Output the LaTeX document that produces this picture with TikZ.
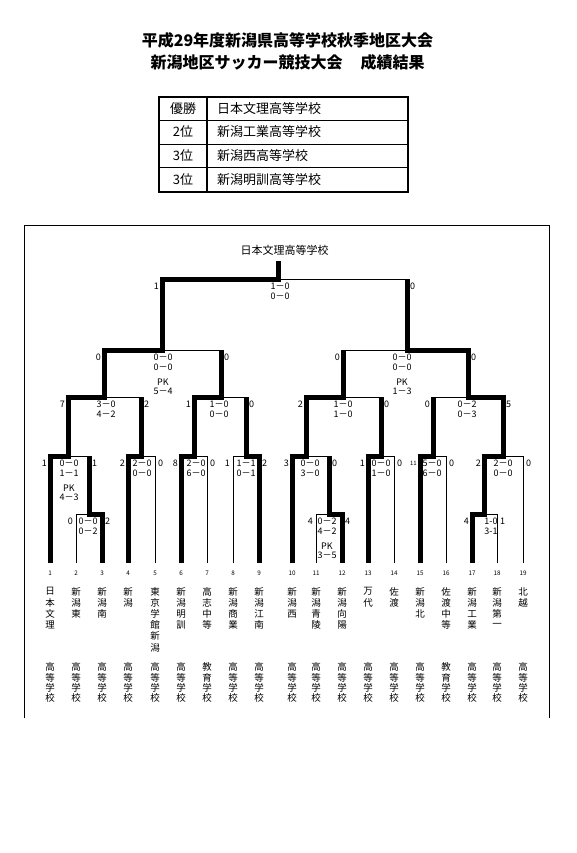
\documentclass[tikz,border=0pt]{standalone}
\usepackage{fontspec}
\setmainfont{Noto Sans CJK JP}
\newcommand\bkTwo[5]{\node[sc] (#3a) at (#1,#2+7) {#4};\node[sc] (#3b) at (#1,#2+17.5) {#5};}
\newcommand\bkPK[6]{\bkTwo{#1}{#2}{#3}{#4}{#5}\node[sc] (#3c) at (#1,#2+32) {PK};\node[sc] (#3d) at (#1,#2+41) {#6};}
\newcommand\bkSide[6]{\node[lnum] (#4L) at (#1-3,#3+7) {#5};\node[rnum] (#4R) at (#2+3,#3+7) {#6};}
\newcommand\teamname[3]{\foreach \chr [count=\j] in {#3} {\node[ch] (#1-\j) at (#2,591.5+11.2*\j-11.2) {\chr};}}
\newcommand\schooltype[3]{\foreach \chr [count=\j] in {#3} {\node[ch] (#1-\j) at (#2,667+10.4*\j-10.4) {\chr};}}
\begin{document}
\begin{tikzpicture}[x=1pt,y=-1pt,
  bline/.style={line width=0.9pt},
  win/.style={line width=5pt,line join=miter,line cap=butt},
  sc/.style={font=\fontsize{9}{10}\selectfont,inner sep=0pt},
  lnum/.style={sc,anchor=east},
  rnum/.style={sc,anchor=west},
  leafnum/.style={font=\fontsize{6.3}{7}\selectfont,inner sep=0pt},
  ch/.style={font=\fontsize{9.5}{10}\selectfont,inner sep=0pt},
  tabtxt/.style={font=\fontsize{13}{15}\selectfont,inner sep=0pt},
  titletxt/.style={font=\bfseries\fontsize{16}{18}\selectfont,inner sep=0pt},
]
\useasboundingbox (0,0) rectangle (576,853);
\fill[white] (0,0) rectangle (576,853);

% ---- title ----
\node[titletxt] (title1) at (287.5,40) {平成29年度新潟県高等学校秋季地区大会};
\node[titletxt] (title2) at (287.5,62) {新潟地区サッカー競技大会\hspace{18pt}成績結果};

% ---- result table ----
\draw[line width=2.7pt] (159,97) rectangle (408,192);
\draw[line width=2.7pt] (207,97) -- (207,192);
\draw[bline] (159,120.5) -- (408,120.5);
\draw[bline] (159,144) -- (408,144);
\draw[bline] (159,167.5) -- (408,167.5);
\node[tabtxt] (p1) at (183,108.5) {優勝};
\node[tabtxt] (p2) at (183,132) {2位};
\node[tabtxt] (p3) at (183,155.5) {3位};
\node[tabtxt] (p4) at (183,179.5) {3位};
\node[tabtxt,anchor=west] (s1) at (217,108.5) {日本文理高等学校};
\node[tabtxt,anchor=west] (s2) at (217,132) {新潟工業高等学校};
\node[tabtxt,anchor=west] (s3) at (217,155.5) {新潟西高等学校};
\node[tabtxt,anchor=west] (s4) at (217,179.5) {新潟明訓高等学校};

% ---- frame ----
\draw[line width=1pt] (24,718) -- (24,225) -- (549,225) -- (549,718);

% ---- champion label ----
\node[font=\fontsize{11}{12}\selectfont,inner sep=0pt] (champ) at (284.5,250) {日本文理高等学校};

% ---- thin bracket lines ----
\draw[bline] (76,514) -- (102,514);
\draw[bline] (50,456) -- (89,456);
\draw[bline] (128,456) -- (155,456);
\draw[bline] (181,456) -- (207,456);
\draw[bline] (233,456) -- (259,456);
\draw[bline] (68,397) -- (141,397);
\draw[bline] (194,397) -- (246,397);
\draw[bline] (104,350) -- (221,350);
\draw[bline] (162,279) -- (407,279);
\draw[bline] (316,514) -- (342,514);
\draw[bline] (292,456) -- (329,456);
\draw[bline] (368,456) -- (394,456);
\draw[bline] (420,456) -- (446,456);
\draw[bline] (472,514) -- (497,514);
\draw[bline] (484,456) -- (523,456);
\draw[bline] (306,397) -- (381,397);
\draw[bline] (433,397) -- (503,397);
\draw[bline] (343,350) -- (468,350);
\foreach \lx/\ly in {76/514,155/456,207/456,233/456,316/514,394/456,446/456,497/514,523/456}
  \draw[bline] (\lx,\ly) -- (\lx,563);

% ---- winners (thick) ----
\draw[win] (50,563) -- (50,456) -- (68,456) -- (68,397) -- (104,397) -- (104,350) -- (162,350) -- (162,279) -- (278,279) -- (278,261);
\draw[win] (102,563) -- (102,514) -- (89,514) -- (89,456);
\draw[win] (128,563) -- (128,456) -- (141,456) -- (141,397);
\draw[win] (181,563) -- (181,456) -- (194,456) -- (194,397) -- (221,397) -- (221,350);
\draw[win] (259,563) -- (259,456) -- (246,456) -- (246,397);
\draw[win] (292,563) -- (292,456) -- (306,456) -- (306,397) -- (343,397) -- (343,350);
\draw[win] (342,563) -- (342,514) -- (329,514) -- (329,456);
\draw[win] (368,563) -- (368,456) -- (381,456) -- (381,397);
\draw[win] (420,563) -- (420,456) -- (433,456) -- (433,397);
\draw[win] (472,563) -- (472,514) -- (484,514) -- (484,456) -- (503,456) -- (503,397) -- (468,397) -- (468,350) -- (407,350) -- (407,279);

% ---- scores ----
\bkTwo{280}{279}{F}{1－0}{0－0}
\bkSide{162}{407}{279}{F}{1}{0}
\bkPK{163}{350}{SL}{0－0}{0－0}{5－4}
\bkSide{104}{221}{350}{SL}{0}{0}
\bkPK{402}{350}{SR}{0－0}{0－0}{1－3}
\bkSide{343}{468}{350}{SR}{0}{0}
\bkTwo{106}{397}{QA}{3－0}{4－2} \bkSide{68}{141}{397}{QA}{7}{2}
\bkTwo{219}{397}{QB}{1－0}{0－0} \bkSide{194}{246}{397}{QB}{1}{0}
\bkTwo{343}{397}{QC}{1－0}{1－0} \bkSide{306}{381}{397}{QC}{2}{0}
\bkTwo{467}{397}{QD}{0－2}{0－3} \bkSide{433}{503}{397}{QD}{0}{5}
\bkPK{69}{456}{RA}{0－0}{1－1}{4－3} \bkSide{50}{89}{456}{RA}{1}{1}
\bkTwo{88}{514}{RB}{0－0}{0－2} \bkSide{76}{102}{514}{RB}{0}{2}
\bkTwo{142}{456}{RC}{2－0}{0－0} \bkSide{128}{155}{456}{RC}{2}{0}
\bkTwo{196}{456}{RD}{2－0}{6－0} \bkSide{181}{207}{456}{RD}{8}{0}
\bkTwo{246}{456}{RE}{1－1}{0－1} \bkSide{233}{259}{456}{RE}{1}{2}
\bkTwo{310}{456}{RF}{0－0}{3－0} \bkSide{292}{329}{456}{RF}{3}{0}
\bkPK{327}{514}{RG}{0－2}{4－2}{3－5} \bkSide{316}{342}{514}{RG}{4}{4}
\bkTwo{381}{456}{RH}{0－0}{1－0} \bkSide{368}{394}{456}{RH}{1}{0}
\bkTwo{432}{456}{RI}{5－0}{6－0} \bkSide{420}{446}{456}{RI}{\fontsize{6}{7}\selectfont 11}{0}
\bkTwo{491}{514}{RJ}{1-0}{3-1} \bkSide{472}{497}{514}{RJ}{4}{1}
\bkTwo{503}{456}{RK}{2－0}{0－0} \bkSide{484}{523}{456}{RK}{2}{0}

% ---- leaf numbers ----
\foreach \lx [count=\k] in {50,76,102,128,155,181,207,233,259,292,316,342,368,394,420,446,472,497,523}
  \node[leafnum] (num\k) at (\lx,573) {\k};

% ---- team names ----
\teamname{t1}{50}{日,本,文,理}
\teamname{t2}{76}{新,潟,東}
\teamname{t3}{102}{新,潟,南}
\teamname{t4}{128}{新,潟}
\teamname{t5}{155}{東,京,学,館,新,潟}
\teamname{t6}{181}{新,潟,明,訓}
\teamname{t7}{207}{高,志,中,等}
\teamname{t8}{233}{新,潟,商,業}
\teamname{t9}{259}{新,潟,江,南}
\teamname{t10}{292}{新,潟,西}
\teamname{t11}{316}{新,潟,青,陵}
\teamname{t12}{342}{新,潟,向,陽}
\teamname{t13}{368}{万,代}
\teamname{t14}{394}{佐,渡}
\teamname{t15}{420}{新,潟,北}
\teamname{t16}{446}{佐,渡,中,等}
\teamname{t17}{472}{新,潟,工,業}
\teamname{t18}{497}{新,潟,第,一}
\teamname{t19}{523}{北,越}
\foreach \lx [count=\k] in {50,76,102,128,155,181,233,259,292,316,342,368,394,420,472,497,523}
  {\schooltype{h\k}{\lx}{高,等,学,校}}
\schooltype{e7}{207}{教,育,学,校}
\schooltype{e16}{446}{教,育,学,校}
\end{tikzpicture}
\end{document}
